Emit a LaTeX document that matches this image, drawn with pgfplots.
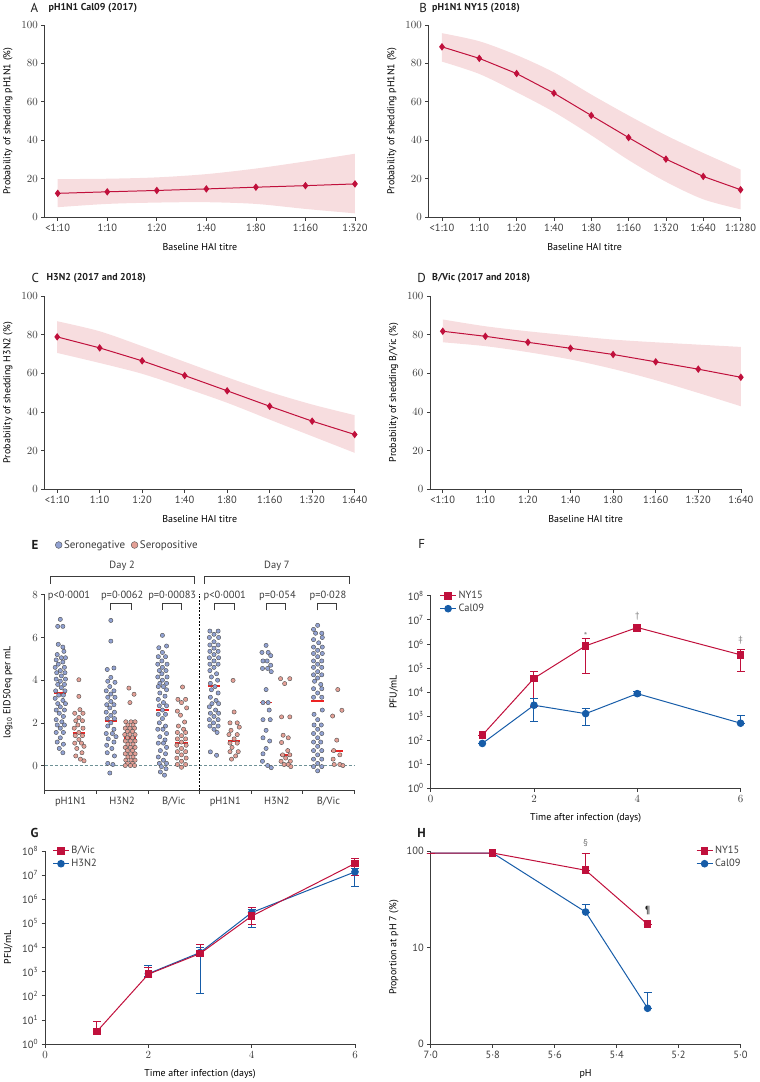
\documentclass[border=0pt]{standalone}
\usepackage{fontspec}
\setmainfont{PT Sans}
\usepackage{pgfplots}
\pgfplotsset{compat=1.18}
\usepgfplotslibrary{fillbetween}
\definecolor{crim}{RGB}{192,16,60}
\definecolor{blu}{RGB}{22,92,168}
\definecolor{band}{RGB}{247,221,223}
\definecolor{negc}{RGB}{146,162,210}
\definecolor{posc}{RGB}{228,160,150}
\definecolor{medc}{RGB}{236,35,35}
\definecolor{zeroc}{RGB}{110,145,150}
\definecolor{txc}{RGB}{60,60,60}
\definecolor{axc}{RGB}{60,60,60}
\definecolor{ttc}{RGB}{30,30,30}
\pgfplotsset{
 panel/.style={
  scale only axis, anchor=south west,
  axis lines=left, axis line style={-, draw=axc, line width=0.7pt},
  tick align=outside, major tick length=3.5pt,
  tick style={draw=axc, line width=0.7pt},
  tick label style={font=\mdseries\fontsize{10.5}{12}\selectfont, text=txc},
  label style={font=\mdseries\fontsize{10.5}{12}\selectfont, text=txc},
  every axis y label/.style={at={([xshift=-37pt]axis description cs:0,0.5)}, anchor=center, rotate=90},
  every axis x label/.style={at={([yshift=-30pt]axis description cs:0.5,0)}, anchor=center},
  legend style={draw=none, fill=none, font=\fontsize{10.5}{12}\selectfont, text=txc, inner sep=1pt},
  legend cell align=left,
  legend image code/.code={\draw[##1, mark=none] (0pt,0pt) -- (16pt,0pt); \draw[##1] plot coordinates {(8pt,0pt)};},
 },
 curve/.style={crim, line width=1pt, mark=diamond*, mark size=3pt},
 eb/.style={error bars/.cd, y dir=both, y explicit, error bar style={line width=1pt}, error mark options={rotate=90, mark size=4pt, line width=1pt}},
}
\newcommand{\clus}[3]{\addplot[forget plot, only marks, mark=*, mark size=2.15pt, mark options={fill=#1, draw=black!70, line width=0.4pt}] table[header=false, row sep=\\, x expr=\thisrowno{0}+#2, y index=1] {#3};}
\newcommand{\med}[3]{\addplot[forget plot, medc, line width=1.8pt] coordinates {(#1,#3) (#2,#3)};}
\newcommand{\brk}[2]{\draw[axc, line width=0.7pt] (axis cs:#1,7.27) |- (axis cs:#2,7.58) -- (axis cs:#2,7.27);}
\begin{document}
\begin{tikzpicture}[x=1pt,y=1pt]
\path (0pt,0pt) rectangle (756pt,1082pt);
% titles
\node[anchor=west, text=ttc, font=\fontsize{13}{15}\selectfont] at (25pt,1075pt) {A};
\node[anchor=west, text=ttc, font=\bfseries\fontsize{10}{12}\selectfont] at (43pt,1075pt) {pH1N1 Cal09 (2017)};
\node[anchor=west, text=ttc, font=\fontsize{13}{15}\selectfont] at (415pt,1075pt) {B};
\node[anchor=west, text=ttc, font=\bfseries\fontsize{10}{12}\selectfont] at (428pt,1075pt) {pH1N1 NY15 (2018)};
\node[anchor=west, text=ttc, font=\fontsize{13}{15}\selectfont] at (26pt,804pt) {C};
\node[anchor=west, text=ttc, font=\bfseries\fontsize{10}{12}\selectfont] at (41pt,804pt) {H3N2 (2017 and 2018)};
\node[anchor=west, text=ttc, font=\fontsize{13}{15}\selectfont] at (413pt,804pt) {D};
\node[anchor=west, text=ttc, font=\bfseries\fontsize{10}{12}\selectfont] at (428pt,804pt) {B/Vic (2017 and 2018)};
\node[anchor=west, text=ttc, font=\bfseries\fontsize{13}{15}\selectfont] at (26pt,536pt) {E};
\node[anchor=west, text=ttc, font=\fontsize{13}{15}\selectfont] at (414pt,537pt) {F};
\node[anchor=west, text=ttc, font=\bfseries\fontsize{13}{15}\selectfont] at (25pt,247pt) {G};
\node[anchor=west, text=ttc, font=\bfseries\fontsize{13}{15}\selectfont] at (413pt,247pt) {H};

% A
\begin{axis}[panel, at={(42.7pt,865pt)}, width=311.3pt, height=193pt, xmin=-0.26, xmax=6, ymin=0, ymax=100,
 xtick={0,...,6}, xticklabels={<1:10,1:10,1:20,1:40,1:80,1:160,1:320}, ytick={0,20,...,100},
 xlabel={Baseline HAI titre}, ylabel={Probability of shedding pH1N1 (\%)}]
\addplot[name path=U, draw=none, smooth] coordinates {(0,19.8)(1,20)(2,20.7)(3,22.4)(4,25.3)(5,29)(6,33)};
\addplot[name path=L, draw=none, smooth] coordinates {(0,5.2)(1,6.9)(2,7.6)(3,7.8)(4,6.9)(5,4.3)(6,2)};
\addplot[band, draw=none] fill between[of=U and L];
\addplot[curve] coordinates {(0,12.4)(1,13.2)(2,13.9)(3,14.7)(4,15.6)(5,16.4)(6,17.3)};
\end{axis}

% B
\begin{axis}[panel, at={(428pt,865pt)}, width=313pt, height=193pt, xmin=-0.355, xmax=8, ymin=0, ymax=100,
 xtick={0,...,8}, xticklabels={<1:10,1:10,1:20,1:40,1:80,1:160,1:320,1:640,1:1280}, ytick={0,20,...,100},
 xlabel={Baseline HAI titre}, ylabel={Probability of shedding pH1N1 (\%)}]
\addplot[name path=U, draw=none, smooth] coordinates {(0,95.7)(1,91.5)(2,84.3)(3,75.3)(4,63.8)(5,52.9)(6,42.6)(7,33.4)(8,24.8)};
\addplot[name path=L, draw=none, smooth] coordinates {(0,80.9)(1,74.5)(2,65)(3,54.7)(4,42.6)(5,29.7)(6,18.4)(7,9.3)(8,4.1)};
\addplot[band, draw=none] fill between[of=U and L];
\addplot[curve] coordinates {(0,88.6)(1,82.6)(2,74.7)(3,64.5)(4,52.9)(5,41.4)(6,30.2)(7,21.2)(8,14.3)};
\end{axis}

% C
\begin{axis}[panel, at={(42.7pt,592pt)}, width=311pt, height=194pt, xmin=-0.29, xmax=7, ymin=0, ymax=100,
 xtick={0,...,7}, xticklabels={<1:10,1:10,1:20,1:40,1:80,1:160,1:320,1:640}, ytick={0,20,...,100},
 xlabel={Baseline HAI titre}, ylabel={Probability of shedding H3N2 (\%)}]
\addplot[name path=U, draw=none, smooth] coordinates {(0,86.9)(1,81.7)(2,74)(3,65.9)(4,57.9)(5,50.3)(6,43.8)(7,38.3)};
\addplot[name path=L, draw=none, smooth] coordinates {(0,70.5)(1,65.3)(2,59.7)(3,52.4)(4,44.7)(5,36)(6,27.4)(7,18.8)};
\addplot[band, draw=none] fill between[of=U and L];
\addplot[curve] coordinates {(0,78.8)(1,73.1)(2,66.4)(3,58.8)(4,50.9)(5,42.9)(6,35.2)(7,28.3)};
\end{axis}

% D
\begin{axis}[panel, at={(429.7pt,592pt)}, width=311.6pt, height=194pt, xmin=-0.29, xmax=7, ymin=0, ymax=100,
 xtick={0,...,7}, xticklabels={<1:10,1:10,1:20,1:40,1:80,1:160,1:320,1:640}, ytick={0,20,...,100},
 xlabel={Baseline HAI titre}, ylabel={Probability of shedding B/Vic (\%)}]
\addplot[name path=U, draw=none, smooth] coordinates {(0,87.8)(1,84.3)(2,81.7)(3,79.5)(4,77.4)(5,76)(6,74.8)(7,73.6)};
\addplot[name path=L, draw=none, smooth] coordinates {(0,76)(1,74)(2,70.9)(3,67.1)(4,62.2)(5,56.4)(6,49.8)(7,42.9)};
\addplot[band, draw=none] fill between[of=U and L];
\addplot[curve] coordinates {(0,81.7)(1,79.1)(2,76)(3,72.9)(4,69.7)(5,65.9)(6,62.1)(7,57.9)};
\end{axis}

% E
\begin{axis}[panel, at={(42.7pt,290pt)}, width=310.6pt, height=196pt, xmin=0, xmax=6, ymin=-1.15, ymax=8, clip=false,
 xtick={0,...,6}, xticklabels={pH1N1,H3N2,B/Vic,pH1N1,H3N2,B/Vic}, x tick label as interval,
 ytick={0,2,4,6,8}, ylabel={log\textsubscript{10} EID50eq per mL},
 legend style={at={(axis description cs:0.03,1.255)}, anchor=west, legend columns=2, font=\fontsize{11}{13}\selectfont, /tikz/every even column/.append style={column sep=4pt}},
 legend image code/.code={\draw[#1] plot coordinates {(3pt,0pt)};}]
\addlegendimage{only marks, mark=*, mark size=3.4pt, mark options={fill=negc, draw=black!70, line width=0.4pt}}
\addlegendentry{Seronegative}
\addlegendimage{only marks, mark=*, mark size=3.4pt, mark options={fill=posc, draw=black!70, line width=0.4pt}}
\addlegendentry{Seropositive}
\addplot[forget plot, zeroc, line width=0.8pt, dash pattern=on 3pt off 2pt] coordinates {(0,0) (6,0)};
\addplot[forget plot, black, line width=0.7pt, dash pattern=on 2pt off 1.5pt] coordinates {(3,-1.15) (3,8.05)};
\clus{negc}{0.30}{0 6.85\\ -0.05 6.52\\ 0.05 6.52\\ -0.04 5.68\\ 0.05 5.55\\ 0.07 5.35\\ -0.06 5.2\\ 0.02 5.05\\ 0.1 5.05\\ -0.08 4.95\\ 0.05 4.85\\ -0.04 4.75\\ 0.08 4.6\\ -0.1 4.6\\ 0 4.45\\ 0.09 4.35\\ -0.07 4.35\\ 0.02 4.2\\ -0.08 4.05\\ 0.1 4.05\\ 0 3.95\\ -0.05 3.8\\ 0.08 3.8\\ 0.02 3.65\\ -0.09 3.5\\ 0.09 3.5\\ -0.03 3.3\\ 0.06 3.3\\ -0.1 3.15\\ 0.05 3.05\\ -0.05 2.9\\ 0.1 2.9\\ 0 2.75\\ -0.08 2.6\\ 0.08 2.6\\ -0.02 2.45\\ 0.06 2.3\\ -0.08 2.15\\ 0.03 2.05\\ -0.06 1.9\\ 0.08 1.9\\ 0 1.75\\ -0.08 1.55\\ 0.06 1.55\\ 0 1.3\\ -0.06 1.1\\ 0.06 1.0\\ -0.02 0.8\\ 0.05 0.6\\}
\clus{posc}{0.66}{0 4.02\\ 0 3.24\\ 0.02 2.62\\ -0.08 2.45\\ 0.08 2.45\\ 0 2.25\\ -0.06 2.1\\ 0.07 2.1\\ -0.02 1.9\\ 0.08 1.75\\ -0.09 1.75\\ 0 1.55\\ -0.07 1.4\\ 0.07 1.4\\ 0 1.22\\ -0.08 1.05\\ 0.05 1.05\\ 0.1 0.9\\ -0.04 0.8\\ 0.06 0.6\\ -0.06 0.45\\ 0.03 0.3\\ 0.1 0.22\\}
\clus{negc}{1.28}{0 6.8\\ 0 5.83\\ 0.06 4.57\\ -0.07 4.5\\ 0 4.13\\ -0.06 3.95\\ 0.08 3.9\\ -0.02 3.7\\ -0.09 3.5\\ 0.06 3.5\\ 0 3.35\\ -0.06 3.2\\ 0.08 3.2\\ 0 3.0\\ -0.08 2.85\\ 0.06 2.85\\ -0.02 2.7\\ 0.07 2.5\\ -0.09 2.5\\ 0 2.35\\ -0.07 2.2\\ 0.07 2.2\\ 0 2.0\\ -0.06 1.85\\ 0.06 1.7\\ -0.09 1.5\\ 0.03 1.5\\ 0.1 1.35\\ -0.05 1.25\\ 0.06 1.1\\ -0.08 0.95\\ 0.02 0.8\\ -0.07 0.6\\ 0.07 0.45\\ -0.06 0.1\\ 0.04 0.05\\ -0.02 -0.35\\}
\clus{posc}{1.65}{-0.02 3.63\\ 0.08 3.34\\ 0 2.95\\ -0.08 2.05\\ 0.02 2.05\\ 0.1 2.05\\ -0.04 1.9\\ 0.06 1.9\\ -0.09 1.75\\ 0 1.75\\ 0.09 1.75\\ -0.05 1.6\\ 0.05 1.6\\ -0.1 1.45\\ 0 1.45\\ 0.1 1.45\\ -0.05 1.3\\ 0.05 1.3\\ -0.09 1.15\\ 0.01 1.15\\ 0.1 1.15\\ -0.04 1.0\\ 0.06 1.0\\ -0.09 0.85\\ 0.01 0.85\\ 0.1 0.85\\ -0.05 0.7\\ 0.05 0.7\\ -0.09 0.55\\ 0.01 0.55\\ 0.1 0.55\\ -0.04 0.4\\ 0.06 0.4\\ -0.08 0.25\\ 0.02 0.25\\ 0.1 0.25\\ -0.05 0.1\\ 0.05 0.1\\ -0.09 0\\ 0.01 0\\ 0.09 0\\}
\clus{negc}{2.28}{0 6.1\\ 0.08 5.6\\ -0.07 5.52\\ 0 5.3\\ -0.08 5.1\\ 0.06 5.1\\ -0.01 4.9\\ 0.09 4.75\\ -0.09 4.75\\ 0 4.6\\ -0.06 4.45\\ 0.07 4.45\\ -0.01 4.3\\ 0.09 4.15\\ -0.09 4.15\\ 0 4.0\\ -0.05 3.85\\ 0.08 3.85\\ -0.08 3.7\\ 0.02 3.7\\ 0.08 3.55\\ -0.05 3.4\\ 0.05 3.25\\ -0.08 3.1\\ 0.02 2.95\\ -0.06 2.8\\ 0.08 2.8\\ 0 2.6\\ -0.08 2.4\\ 0.06 2.4\\ 0 2.2\\ -0.06 2.0\\ 0.06 1.85\\ -0.09 1.7\\ 0.01 1.7\\ 0.08 1.5\\ -0.05 1.35\\ 0.05 1.2\\ -0.08 1.05\\ 0.02 1.05\\ 0.08 0.85\\ -0.04 0.7\\ 0.06 0.55\\ -0.08 0.4\\ 0.02 0.25\\ -0.06 0.1\\ 0.08 0.1\\ -0.02 -0.05\\ 0.07 -0.15\\ -0.04 -0.3\\ 0.04 -0.45\\}
\clus{posc}{2.65}{0.02 3.68\\ -0.07 3.1\\ 0.08 3.1\\ 0 2.95\\ 0.1 2.7\\ -0.08 2.55\\ -0.02 2.36\\ 0.06 2.04\\ -0.06 1.85\\ 0.04 1.7\\ -0.08 1.55\\ 0.08 1.55\\ 0 1.4\\ -0.08 1.25\\ 0.08 1.25\\ 0 1.1\\ -0.09 0.95\\ 0.09 0.95\\ 0 0.8\\ -0.08 0.65\\ 0.08 0.65\\ 0 0.5\\ -0.09 0.35\\ 0.09 0.35\\ 0 0.2\\ -0.08 0.05\\ 0.08 0.05\\ 0 -0.08\\}
\clus{negc}{3.28}{-0.08 6.3\\ 0.08 6.3\\ 0 6.15\\ -0.09 6.0\\ 0.09 6.0\\ 0 5.8\\ -0.08 5.65\\ 0.08 5.65\\ 0 5.5\\ -0.08 5.35\\ 0.08 5.35\\ 0 5.2\\ -0.09 5.05\\ 0.09 5.05\\ 0 4.9\\ -0.08 4.75\\ 0.08 4.75\\ 0 4.6\\ -0.08 4.45\\ 0.05 4.3\\ -0.05 4.15\\ 0.07 4.0\\ -0.07 3.85\\ 0.02 3.7\\ -0.05 3.55\\ 0.08 3.4\\ -0.07 3.2\\ 0.04 3.05\\ -0.04 2.9\\ 0.09 2.9\\ -0.09 2.75\\ 0.03 2.6\\ -0.07 2.45\\ 0.09 2.45\\ 0 2.3\\ -0.09 2.15\\ 0.08 2.15\\ -0.01 2.0\\ -0.08 1.85\\ 0.08 1.85\\ 0 1.7\\ 0.06 1.55\\ -0.07 0.64\\ 0.05 0.48\\}
\clus{posc}{3.67}{-0.02 3.99\\ 0 2.51\\ -0.08 2.0\\ 0.06 2.0\\ 0.1 1.8\\ -0.06 1.65\\ -0.1 1.45\\ 0.06 1.45\\ 0 1.25\\ -0.08 1.05\\ 0.06 1.05\\ -0.04 0.85\\ 0.08 0.65\\ -0.08 0.65\\ 0.03 0.45\\ -0.05 0.3\\}
\clus{negc}{4.29}{0 5.63\\ -0.08 5.3\\ 0.04 5.3\\ 0.09 5.15\\ -0.06 4.9\\ 0.02 4.9\\ 0.09 4.7\\ -0.07 4.55\\ 0.03 4.55\\ 0.1 4.4\\ 0 3.56\\ -0.06 2.95\\ 0.04 2.95\\ 0.06 2.6\\ -0.06 2.15\\ 0.08 2.15\\ 0 1.65\\ -0.06 1.3\\ 0.07 1.15\\ 0 0.8\\ -0.06 0.55\\ -0.07 0.2\\ 0.03 0.0\\ 0.1 -0.1\\}
\clus{posc}{4.67}{-0.1 4.07\\ 0.08 4.07\\ -0.02 3.84\\ -0.08 2.28\\ 0.08 2.28\\ -0.05 1.42\\ 0.05 1.3\\ -0.08 1.08\\ 0.04 0.7\\ -0.06 0.5\\ 0.08 0.5\\ 0 0.35\\ -0.09 0.2\\ 0.09 0.2\\ -0.03 0.05\\ 0.05 0.05\\ 0.1 -0.05\\}
\clus{negc}{5.29}{0 6.57\\ -0.08 6.38\\ 0.08 6.2\\ -0.04 6.2\\ 0.09 6.0\\ -0.08 5.9\\ 0.02 5.75\\ -0.08 5.55\\ 0.09 5.55\\ 0 5.4\\ -0.08 5.25\\ 0.09 5.25\\ 0 5.1\\ -0.08 4.9\\ 0.08 4.9\\ 0 4.75\\ -0.08 4.6\\ 0.08 4.6\\ 0 4.4\\ -0.08 4.25\\ 0.08 4.25\\ 0 4.1\\ -0.06 3.95\\ 0.06 3.8\\ -0.08 3.6\\ 0.08 3.6\\ 0 3.4\\ -0.08 3.2\\ 0.08 3.2\\ 0.09 2.6\\ -0.07 2.4\\ 0 2.15\\ -0.07 1.9\\ 0.07 1.9\\ 0 1.7\\ -0.08 1.5\\ 0.08 1.5\\ 0 1.3\\ -0.08 1.1\\ 0.06 1.1\\ 0 0.9\\ -0.08 0.7\\ 0.08 0.7\\ 0 0.5\\ -0.08 0.3\\ 0.08 0.3\\ 0 0.1\\ -0.08 -0.05\\ 0.08 -0.05\\ 0 -0.25\\}
\clus{posc}{5.66}{0.02 3.56\\ 0.1 2.59\\ -0.08 2.32\\ 0 1.19\\ -0.06 0.7\\ 0.06 0.5\\ -0.07 0.3\\ -0.05 0.05\\ 0.06 0.05\\ 0.12 0.0\\}
\med{0.18}{0.42}{3.4}
\med{0.54}{0.78}{1.53}
\med{1.16}{1.40}{2.07}
\med{1.53}{1.77}{1.3}
\med{2.16}{2.40}{2.59}
\med{2.53}{2.77}{1.05}
\med{3.16}{3.40}{3.73}
\med{3.55}{3.79}{1.15}
\med{4.17}{4.41}{2.95}
\med{4.55}{4.79}{0.48}
\med{5.17}{5.41}{3.04}
\med{5.54}{5.78}{0.69}
\brk{1.28}{1.68}
\brk{2.28}{2.65}
\brk{3.28}{3.67}
\brk{4.29}{4.67}
\brk{5.29}{5.66}
\node[text=txc, font=\fontsize{10.5}{12}\selectfont] at (axis cs:0.47,7.97) {p<0·0001};
\node[text=txc, font=\fontsize{10.5}{12}\selectfont] at (axis cs:1.5,7.97) {p=0·0062};
\node[text=txc, font=\fontsize{10.5}{12}\selectfont] at (axis cs:2.47,7.97) {p=0·00083};
\node[text=txc, font=\fontsize{10.5}{12}\selectfont] at (axis cs:3.49,7.97) {p<0·0001};
\node[text=txc, font=\fontsize{10.5}{12}\selectfont] at (axis cs:4.51,7.97) {p=0·054};
\node[text=txc, font=\fontsize{10.5}{12}\selectfont] at (axis cs:5.49,7.97) {p=0·028};
\draw[axc, line width=0.7pt] (axis cs:0.1,8.51) |- (axis cs:2.9,8.87) -- (axis cs:2.9,8.51);
\draw[axc, line width=0.7pt] (axis cs:3.1,8.51) |- (axis cs:5.9,8.87) -- (axis cs:5.9,8.51);
\node[text=txc, font=\fontsize{10.5}{12}\selectfont] at (axis cs:1.5,9.36) {Day 2};
\node[text=txc, font=\fontsize{10.5}{12}\selectfont] at (axis cs:4.5,9.36) {Day 7};
\end{axis}

% F
\begin{axis}[panel, at={(430pt,292pt)}, width=311pt, height=193pt, xmin=0, xmax=6, xtick={0,2,4,6},
 ymode=log, ymin=1, ymax=1e8, ytick={1,10,100,1000,1e4,1e5,1e6,1e7,1e8},
 yticklabels={10\textsuperscript{0},10\textsuperscript{1},10\textsuperscript{2},10\textsuperscript{3},10\textsuperscript{4},10\textsuperscript{5},10\textsuperscript{6},10\textsuperscript{7},10\textsuperscript{8}},
 yminorticks=false, clip=false, xlabel={Time after infection (days)}, ylabel={PFU/mL},
 legend style={at={(axis description cs:0.025,1.04)}, anchor=north west}]
\addplot[crim, line width=1pt, mark=square*, mark size=3.3pt, eb] table[x=x, y=y, y error plus=ep, y error minus=em, row sep=\\]
 {x y ep em\\ 1 160 0 0\\ 2 37000 33000 34500\\ 3 830000 770000 774000\\ 4 4800000 1800000 1500000\\ 6 350000 260000 277000\\};
\addlegendentry{NY15}
\addplot[blu, line width=1pt, mark=*, mark size=3.3pt, eb] table[x=x, y=y, y error plus=ep, y error minus=em, row sep=\\]
 {x y ep em\\ 1 72 0 0\\ 2 2800 2400 2230\\ 3 1250 850 860\\ 4 8500 1500 1500\\ 6 500 570 0\\};
\addlegendentry{Cal09}
\node[text=gray, font=\fontsize{10}{12}\selectfont] at (axis cs:3,2.2e6) {*};
\node[text=gray, font=\fontsize{9}{10}\selectfont] at (axis cs:4,1.4e7) {†};
\node[text=gray, font=\fontsize{9}{10}\selectfont] at (axis cs:6,1.35e6) {‡};
\end{axis}

% G
\begin{axis}[panel, at={(43pt,35pt)}, width=311pt, height=194pt, xmin=0, xmax=6, xtick={0,2,4,6},
 ymode=log, ymin=1, ymax=1e8, ytick={1,10,100,1000,1e4,1e5,1e6,1e7,1e8},
 yticklabels={10\textsuperscript{0},10\textsuperscript{1},10\textsuperscript{2},10\textsuperscript{3},10\textsuperscript{4},10\textsuperscript{5},10\textsuperscript{6},10\textsuperscript{7},10\textsuperscript{8}},
 yminorticks=false, clip=false, xlabel={Time after infection (days)}, ylabel={PFU/mL},
 legend style={at={(axis description cs:0.02,1.04)}, anchor=north west}]
\addlegendimage{crim, line width=1pt, mark=square*, mark size=3.3pt}
\addlegendentry{B/Vic}
\addlegendimage{blu, line width=1pt, mark=*, mark size=3.3pt}
\addlegendentry{H3N2}
\addplot[forget plot, blu, line width=1pt, mark=*, mark size=3.3pt, eb] table[x=x, y=y, y error plus=ep, y error minus=em, row sep=\\]
 {x y ep em\\ 2 830 900 200\\ 3 6200 4000 6074\\ 4 280000 110000 213000\\ 6 13500000 6000000 10000000\\};
\addplot[forget plot, crim, line width=1pt, mark=square*, mark size=3.3pt, eb] table[x=x, y=y, y error plus=ep, y error minus=em, row sep=\\]
 {x y ep em\\ 1 3.3 5.1 0\\ 2 790 700 200\\ 3 5600 7400 0\\ 4 200000 260000 110000\\ 6 30000000 18000000 20700000\\};
\end{axis}

% H
\begin{axis}[panel, at={(430pt,35pt)}, width=311pt, height=194pt, xmin=0, xmax=5,
 xtick={0,...,5}, xticklabels={7·0,5·8,5·6,5·4,5·2,5·0},
 ymode=log, ymin=1, ymax=100, ytick={1,10,100}, yticklabels={0,10,100}, yminorticks=false, clip=false,
 xlabel={pH}, ylabel={Proportion at pH 7 (\%)},
 legend style={at={(axis description cs:1.01,1.04)}, anchor=north east}]
\addlegendimage{crim, line width=1pt, mark=square*, mark size=3.3pt}
\addlegendentry{NY15}
\addlegendimage{blu, line width=1pt, mark=*, mark size=3.3pt}
\addlegendentry{Cal09}
\addplot[forget plot, blu, line width=1pt, mark=*, mark size=3.3pt, mark indices={3,4}, eb] table[x=x, y=y, y error plus=ep, y error minus=em, row sep=\\]
 {x y ep em\\ 0 95 0 0\\ 1 95 0 0\\ 2.5 23.3 4.7 0\\ 3.5 2.35 1.05 0\\};
\addplot[forget plot, crim, line width=1pt, mark=square*, mark size=3.3pt, mark indices={2,3,4}, eb] table[x=x, y=y, y error plus=ep, y error minus=em, row sep=\\]
 {x y ep em\\ 0 95 0 0\\ 1 95 0 0\\ 2.5 63 31 0\\ 3.5 17.4 0 0\\};
\node[text=gray, font=\fontsize{10}{12}\selectfont] at (axis cs:2.5,121) {§};
\node[text=ttc, font=\fontsize{10.5}{12}\selectfont] at (axis cs:3.5,24) {¶};
\end{axis}
\end{tikzpicture}
\end{document}
